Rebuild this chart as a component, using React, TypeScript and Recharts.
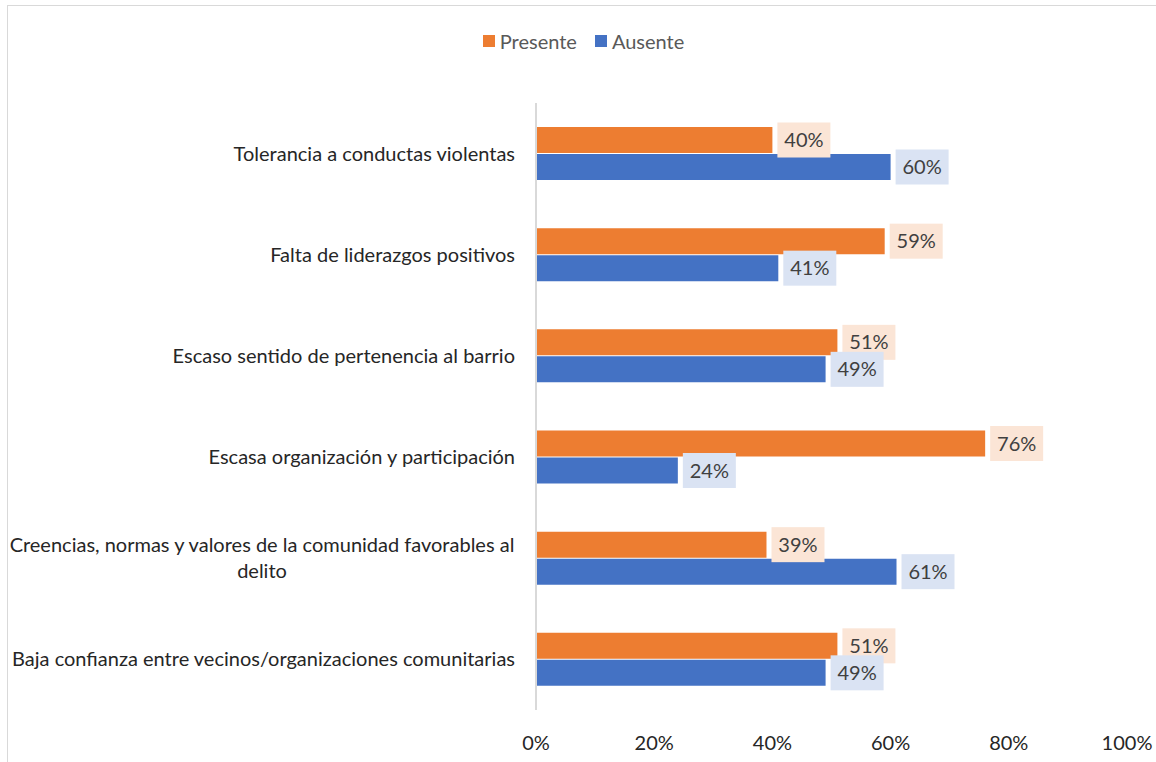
import React from "react";
import { BarChart, Bar, XAxis, YAxis, Legend, LabelList, Text } from "recharts";

const categories = [
  "Tolerancia a conductas violentas",
  "Falta de liderazgos positivos",
  "Escaso sentido de pertenencia al barrio",
  "Escasa organización y participación",
  "Creencias, normas y valores de la comunidad favorables al delito",
  "Baja confianza entre vecinos/organizaciones comunitarias",
];
const presente = [40, 59, 51, 76, 39, 51];
const ausente = [60, 41, 49, 24, 61, 49];
const xTicks = [0, 20, 40, 60, 80, 100];
const seriesNames = ["Presente", "Ausente"];

const data = categories.map((name, i) => ({ name, presente: presente[i], ausente: ausente[i] }));

const FONT = "Lato, 'Open Sans', sans-serif";
const FS = 20;
const ORANGE = "#ED7D31";
const BLUE = "#4472C4";
const colors = [ORANGE, BLUE];

// simple greedy wrap so the long label breaks like the original
function wrap(label: string, maxChars = 57) {
  const words = label.split(" ");
  const lines: string[] = [];
  let cur = "";
  for (const w of words) {
    const next = cur ? cur + " " + w : w;
    if (next.length > maxChars && cur) {
      lines.push(cur);
      cur = w;
    } else cur = next;
  }
  if (cur) lines.push(cur);
  return lines;
}

function CategoryTick(props: any) {
  const { x, y, payload } = props;
  const lines = wrap(payload.value);
  if (lines.length === 1) {
    return (
      <text x={x} y={y} dy="0.35em" textAnchor="end" fill="#262626" fontSize={FS} fontFamily={FONT}>
        {payload.value}
      </text>
    );
  }
  const cx = x - 253;
  return (
    <text x={cx} y={y} textAnchor="middle" fill="#262626" fontSize={FS} fontFamily={FONT}>
      {lines.map((l, i) => (
        <tspan key={i} x={cx} dy={i === 0 ? `${0.35 - ((lines.length - 1) * 1.3) / 2}em` : "1.3em"}>
          {l}
        </tspan>
      ))}
    </text>
  );
}

function makeLabel(bg: string) {
  return (props: any) => {
    const { x, y, width, height, value } = props;
    const bx = x + width + 5;
    const cy = y + height / 2;
    return (
      <g>
        <rect x={bx} y={cy - 17.5} width={53} height={35} fill={bg} />
        <Text x={bx + 26.5} y={cy} textAnchor="middle" verticalAnchor="middle" fill="#404040" fontSize={FS} fontFamily={FONT}>
          {`${value}%`}
        </Text>
      </g>
    );
  };
}

function LegendContent() {
  return (
    <div style={{ display: "flex", justifyContent: "center", fontFamily: FONT, fontSize: FS, color: "#595959", marginLeft: 30 }}>
      {seriesNames.map((n, i) => (
        <span key={n} style={{ display: "flex", alignItems: "center", marginRight: i === 0 ? 18 : 0 }}>
          <span style={{ width: 12, height: 12, background: colors[i], display: "inline-block", marginRight: 5 }} />
          {n}
        </span>
      ))}
    </div>
  );
}

export default function App() {
  return (
    <div style={{ position: "absolute", left: 0, top: 0, width: 1156, height: 762, background: "#fff" }}>
      <div
        style={{
          position: "absolute",
          left: 7,
          top: 5,
          right: 0,
          bottom: 0,
          borderLeft: "1.5px solid #D9D9D9",
          borderTop: "1.5px solid #D9D9D9",
        }}
      />
      <div style={{ position: "absolute", left: 0, top: 0 }}>
        <BarChart
          width={1156}
          height={762}
          data={data}
          layout="vertical"
          margin={{ top: 79, right: 29, bottom: 12, left: 10 }}
          barSize={26}
          barGap={1}
        >
          <XAxis
            type="number"
            domain={[0, 100]}
            ticks={xTicks}
            tickFormatter={(v) => `${v}%`}
            axisLine={false}
            tickLine={false}
            tickMargin={20}
            height={40}
            tick={{ fill: "#262626", fontSize: FS, fontFamily: FONT }}
          />
          <YAxis
            type="category"
            dataKey="name"
            width={526}
            tickSize={0}
            tickMargin={21}
            axisLine={{ stroke: "#D9D9D9", strokeWidth: 2 }}
            tickLine={false}
            tick={<CategoryTick />}
            interval={0}
          />
          <Legend verticalAlign="top" align="center" wrapperStyle={{ top: 29 }} content={<LegendContent />} />
          <Bar dataKey="presente" name={seriesNames[0]} fill={ORANGE} isAnimationActive={false}>
            <LabelList dataKey="presente" content={makeLabel("#FBE5D6")} />
          </Bar>
          <Bar dataKey="ausente" name={seriesNames[1]} fill={BLUE} isAnimationActive={false}>
            <LabelList dataKey="ausente" content={makeLabel("#DAE3F3")} />
          </Bar>
        </BarChart>
      </div>
    </div>
  );
}
